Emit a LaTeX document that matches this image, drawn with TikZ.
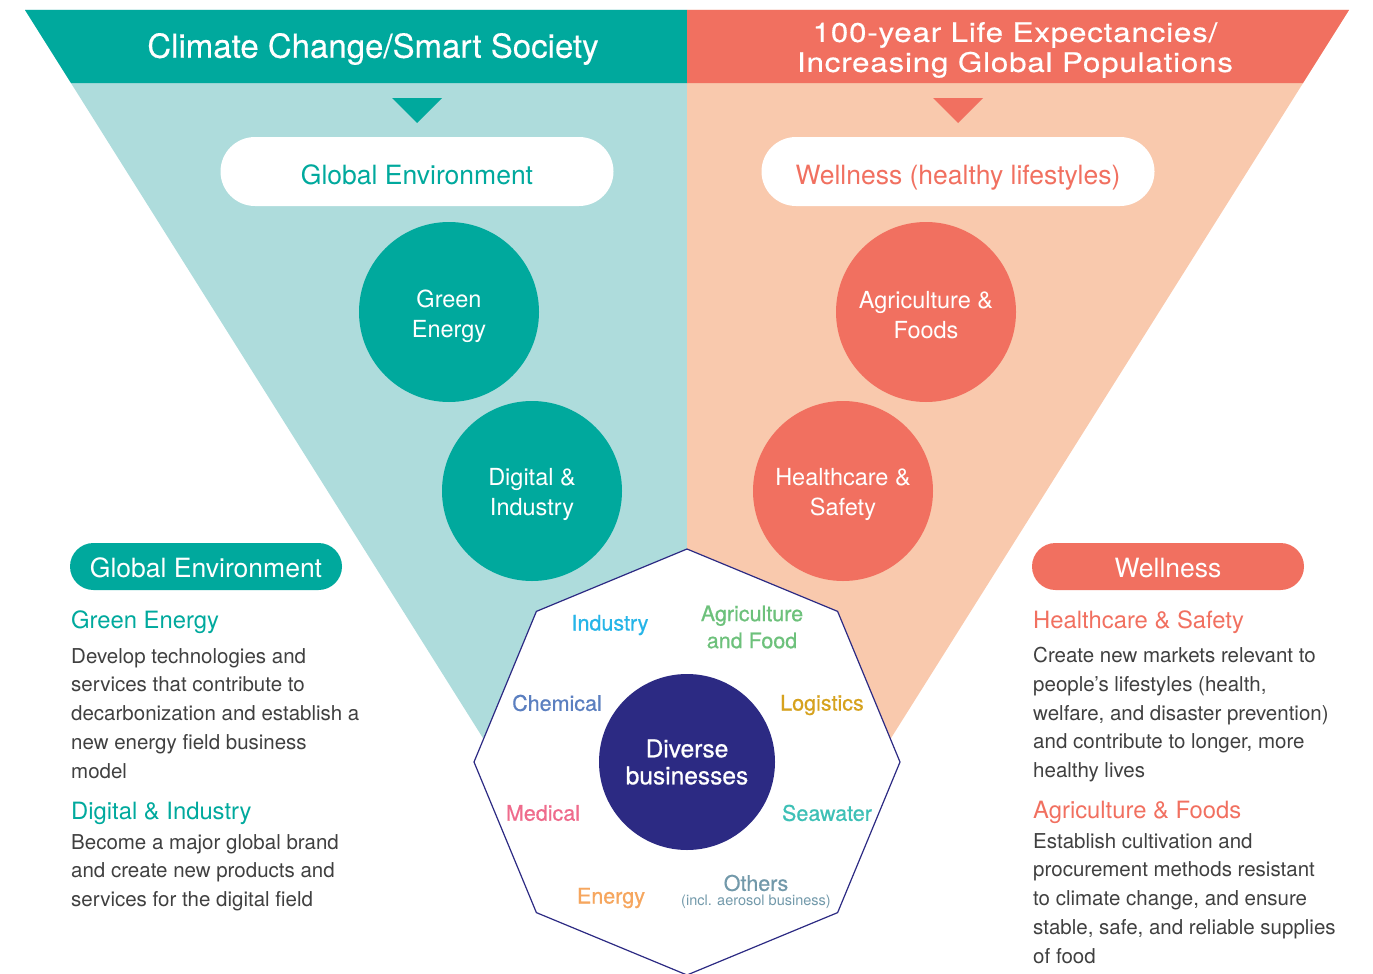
\documentclass[tikz,border=0pt]{standalone}
\usepackage{fontspec}
\setmainfont{TeX Gyre Heros}
\usetikzlibrary{shapes.geometric}

\definecolor{dteal}{RGB}{0,169,157}
\definecolor{lteal}{RGB}{174,220,220}
\definecolor{dcoral}{RGB}{241,112,96}
\definecolor{lcoral}{RGB}{249,201,173}
\definecolor{navy}{RGB}{44,42,131}
\definecolor{bodygray}{RGB}{64,64,64}

\tikzset{
  pill/.style={inner sep=0pt, minimum width=#1, text depth=0pt},
  bubble/.style={circle, inner sep=0pt, minimum size=180pt},
  bubbletext/.style={inner sep=0pt, text=white, align=center, font=\fontsize{23.5}{30}\selectfont},
  bizlabel/.style={inner sep=0pt, align=center, font=\fontsize{21.5}{27}\selectfont\addfontfeature{FakeBold=0.6}},
  heading/.style={inner sep=0pt, anchor=base west, font=\fontsize{23.8}{28}\selectfont},
  bodytext/.style={inner sep=0pt, anchor=north west, align=left, text=bodygray,
    font=\fontsize{20.5}{28.75}\selectfont}
}

\begin{document}
\begin{tikzpicture}[x=1pt,y=-1pt]
    \useasboundingbox (0,0) rectangle (1373,974);

    % the two halves of the funnel
    \fill[lteal]  (25,10) -- (687,10) -- (687,762) -- (498,762) -- cycle;
    \fill[lcoral] (1349,10) -- (687,10) -- (687,762) -- (876,762) -- cycle;
    \fill[dteal]  (25,10) -- (687,10) -- (687,83) -- (71,83) -- cycle;
    \fill[dcoral] (1349,10) -- (687,10) -- (687,83) -- (1303,83) -- cycle;

    \node[text=white, font=\fontsize{33}{36}\selectfont\addfontfeature{FakeBold=0.3}] (climate) at (373,49)
        {Climate Change/Smart Society};
    \node[text=white, align=center,
        font=\fontsize{27}{30}\selectfont\addfontfeature{FakeStretch=1.16,LetterSpace=3,FakeBold=0.4}] (life) at (1015,50)
        {100-year Life Expectancies/\\Increasing Global Populations};

    \fill[dteal]  (392,98) -- (442,98) -- (417,123) -- cycle;
    \fill[dcoral] (933,98) -- (983,98) -- (958,123) -- cycle;

    \node[pill=393pt, minimum height=69pt, rounded corners=34.5pt, text height=25pt, fill=white, text=dteal,
        font=\fontsize{26.5}{30}\selectfont] (globaltop) at (417,171.5) {Global Environment};
    \node[pill=393pt, minimum height=69pt, rounded corners=34.5pt, text height=25pt, fill=white, text=dcoral,
        font=\fontsize{26.5}{30}\selectfont] (wellnesstop) at (958,171.5) {Wellness (healthy lifestyles)};

    \node[bubble, fill=dteal]  (green)   at (449,312) {};
    \node[bubble, fill=dteal]  (digital) at (532,491) {};
    \node[bubble, fill=dcoral] (agri)    at (926,312) {};
    \node[bubble, fill=dcoral] (health)  at (843,491) {};
    \node[bubbletext] (greentext)   at ([yshift=-4.5pt]green)   {Green\\Energy};
    \node[bubbletext] (digitaltext) at ([yshift=-3pt]digital) {Digital \&\\Industry};
    \node[bubbletext] (agritext)    at ([yshift=-3pt]agri)    {Agriculture \&\\Foods};
    \node[bubbletext] (healthtext)  at ([yshift=-3pt]health)  {Healthcare \&\\Safety};

    % octagon of businesses
    \node[regular polygon, regular polygon sides=8, shape border rotate=22.5, minimum size=426pt,
        inner sep=0pt, draw=navy, line width=1.2pt, fill=white] (octo) at (687,762) {};
    \node[circle, fill=navy, minimum size=176pt, inner sep=0pt, text=white, align=center,
        font=\fontsize{24.5}{27}\selectfont\addfontfeature{FakeBold=0.8}] (diverse) at (octo) {Diverse\\businesses};

    \node[bizlabel, text={rgb,255:red,37;green,181;blue,232}]  (industry)  at (610,625) {Industry};
    \node[bizlabel, text={rgb,255:red,109;green,193;blue,123}] (agrifood)  at (752,627) {Agriculture\\and Food};
    \node[bizlabel, text={rgb,255:red,91;green,127;blue,192}]  (chemical)  at (557,703) {Chemical};
    \node[bizlabel, text={rgb,255:red,214;green,162;blue,30}]  (logistics) at (822,705) {Logistics};
    \node[bizlabel, text={rgb,255:red,239;green,107;blue,140}] (medical)   at (543,813) {Medical};
    \node[bizlabel, text={rgb,255:red,61;green,192;blue,182}]  (seawater)  at (827,813) {Seawater};
    \node[bizlabel, text={rgb,255:red,246;green,166;blue,94}]  (energy)    at (611,898) {Energy};
    \node[bizlabel, text={rgb,255:red,114;green,153;blue,170}] (others)    at (756,883) {Others};
    \node[inner sep=0pt, text={rgb,255:red,114;green,153;blue,170}, font=\fontsize{14.5}{16}\selectfont]
        (aerosol) at (756,902) {(incl. aerosol business)};

    % left column
    \node[pill=272pt, minimum height=47pt, rounded corners=23.5pt, text height=21pt, fill=dteal, text=white,
        font=\fontsize{26.5}{30}\selectfont] (globalbox) at (206,566.5) {Global Environment};
    \node[heading, text=dteal] (greenhead) at (71,628) {Green Energy};
    \node[bodytext] (greenbody) at (71,648)
        {Develop technologies and\\services that contribute to\\decarbonization and establish a\\new energy field business\\model};
    \node[heading, text=dteal] (digitalhead) at (71,819) {Digital \& Industry};
    \node[bodytext] (digitalbody) at (71,834)
        {Become a major global brand\\and create new products and\\services for the digital field};

    % right column
    \node[pill=272pt, minimum height=47pt, rounded corners=23.5pt, text height=21pt, fill=dcoral, text=white,
        font=\fontsize{26.5}{30}\selectfont] (wellnessbox) at (1168,566.5) {Wellness};
    \node[heading, text=dcoral] (healthhead) at (1033,628) {Healthcare \& Safety};
    \node[bodytext] (healthbody) at (1033,647)
        {Create new markets relevant to\\people’s lifestyles (health,\\welfare, and disaster prevention)\\and contribute to longer, more\\healthy lives};
    \node[heading, text=dcoral] (agrihead) at (1033,818) {Agriculture \& Foods};
    \node[bodytext] (agribody) at (1033,833)
        {Establish cultivation and\\procurement methods resistant\\to climate change, and ensure\\stable, safe, and reliable supplies\\of food};
\end{tikzpicture}
\end{document}
